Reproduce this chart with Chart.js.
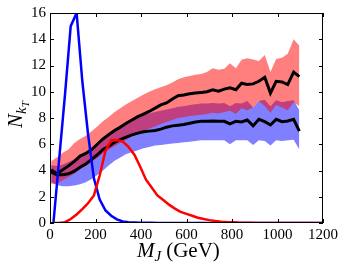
<!DOCTYPE html>
<html>
<head>
<meta charset="utf-8">
<script src="https://cdn.jsdelivr.net/npm/chart.js@4.4.0/dist/chart.umd.min.js"></script>
<style>
  html, body { margin: 0; padding: 0; background: #fff; }
</style>
</head>
<body>
<canvas id="c" width="346" height="269"></canvas>
<script>
// mass bins (GeV) for the mean curves and their bands
const bandMass = [5, 30, 56, 81, 107, 132, 157, 183, 208, 233, 259, 284, 309, 335, 360, 386, 411, 436, 462, 487,
  512, 538, 563, 588, 614, 639, 665, 690, 715, 741, 766, 791, 817, 842, 867, 893, 918, 944, 969, 994,
  1020, 1045, 1071, 1096];

// upper (red band) mean and spread
const redMean = [4.05, 3.75, 4.05, 4.35, 4.7, 5.1, 5.3, 5.6, 6.0, 6.4, 6.75, 7.05, 7.3, 7.6, 7.85, 8.1, 8.3, 8.5, 8.75, 9.0,
  9.15, 9.45, 9.7, 9.75, 9.85, 9.9, 9.95, 10.0, 10.15, 10.05, 10.2, 10.3, 10.15, 10.65, 10.55, 10.6, 10.8, 11.1, 9.9, 10.8,
  10.75, 10.55, 11.5, 11.15];
const redHi = [4.7, 5.0, 5.35, 5.6, 6.1, 6.4, 6.65, 7.0, 7.35, 7.75, 8.1, 8.45, 8.75, 9.05, 9.3, 9.55, 9.8, 10.0, 10.2, 10.35,
  10.5, 10.7, 10.95, 11.1, 11.2, 11.3, 11.35, 11.5, 11.8, 11.68, 11.75, 12.17, 11.8, 12.43, 12.55, 12.45, 12.35, 12.8, 11.5, 12.5,
  12.6, 12.9, 14.0, 13.5];
const redLo = [3.0, 3.0, 3.25, 3.5, 3.75, 4.1, 4.35, 4.65, 4.95, 5.3, 5.6, 5.85, 6.1, 6.35, 6.6, 6.8, 7.0, 7.2, 7.35, 7.55,
  7.7, 7.85, 8.0, 8.05, 8.15, 8.2, 8.25, 8.3, 8.4, 8.35, 8.45, 8.55, 8.3, 8.75, 8.6, 8.8, 9.3, 8.9, 8.4, 9.0,
  8.8, 8.6, 9.2, 8.9];

// lower (blue band) mean and spread
const blueMean = [3.87, 3.67, 3.68, 3.75, 3.95, 4.25, 4.5, 4.85, 5.2, 5.6, 5.85, 6.15, 6.35, 6.55, 6.72, 6.85, 6.95, 7.0, 7.05, 7.15,
  7.3, 7.4, 7.45, 7.5, 7.6, 7.7, 7.75, 7.75, 7.77, 7.75, 7.75, 7.55, 7.75, 7.7, 7.85, 7.4, 7.9, 7.72, 7.47, 7.9,
  7.72, 7.77, 7.9, 7.0];
const blueHi = [4.4, 4.35, 4.45, 4.65, 4.85, 5.1, 5.35, 5.7, 6.1, 6.5, 6.85, 7.2, 7.45, 7.7, 7.95, 8.1, 8.25, 8.35, 8.45, 8.55,
  8.65, 8.75, 8.85, 8.9, 9.0, 9.05, 9.1, 9.1, 9.15, 9.1, 9.15, 8.9, 9.15, 9.1, 9.3, 8.8, 9.3, 9.4, 8.9, 9.35,
  9.2, 9.3, 9.35, 8.6];
const blueLo = [3.1, 2.9, 2.8, 2.8, 2.85, 2.95, 3.1, 3.35, 3.65, 4.0, 4.4, 4.75, 5.0, 5.25, 5.4, 5.55, 5.7, 5.8, 5.9, 5.95,
  6.0, 6.05, 6.1, 6.15, 6.2, 6.25, 6.3, 6.3, 6.3, 6.3, 6.3, 6.0, 6.3, 6.3, 6.3, 5.95, 6.3, 6.25, 5.9, 6.3,
  6.25, 6.3, 6.35, 5.6];

// mass distributions (arbitrary normalisation)
const distMass = [15, 40, 66, 91, 117, 142, 167, 193, 218, 244, 269, 294, 320, 345, 371, 396, 422, 447, 472, 498,
  523, 549, 574, 600, 625, 650, 676, 701, 727, 752, 777, 803, 828, 853, 879, 904, 930, 955, 980, 1006,
  1031, 1057, 1082, 1107, 1133, 1158, 1184, 1200];
const blueDist = [0, 4.8, 9.8, 15.0, 16.0, 10.8, 6.8, 3.4, 1.8, 0.95, 0.55, 0.28, 0.12, 0.05, 0.03, 0.02, 0.01, 0.01, 0, 0,
  0, 0, 0, 0, 0, 0, 0, 0, 0, 0, 0, 0, 0, 0, 0, 0, 0, 0, 0, 0,
  0, 0, 0, 0, 0, 0, 0, 0];
const redDist = [0, 0, 0.06, 0.3, 0.65, 1.05, 1.5, 2.1, 3.6, 5.5, 6.3, 6.32, 6.2, 5.8, 5.2, 4.3, 3.3, 2.7, 2.1, 1.75,
  1.4, 1.1, 0.85, 0.7, 0.55, 0.4, 0.3, 0.22, 0.15, 0.1, 0.07, 0.05, 0.03, 0.02, 0.01, 0, 0, 0, 0, 0,
  0, 0, 0, 0, 0, 0, 0, 0];

const xTicks = [0, 200, 400, 600, 800, 1000, 1200];
const yTicks = [0, 2, 4, 6, 8, 10, 12, 14, 16];

const pts = (xs, ys) => xs.map((x, i) => ({ x: x, y: ys[i] }));
const SERIF = '"Liberation Serif", "DejaVu Serif", serif';

// matplotlib style frame with inward ticks, plus the math axis titles
const frameTicks = {
    id: 'frameTicks',
    afterDraw(chart) {
        const { ctx, chartArea: a, scales: { x, y } } = chart;
        ctx.save();
        ctx.strokeStyle = '#000';
        ctx.lineWidth = 1;
        ctx.strokeRect(a.left + 0.5, a.top + 0.5, a.right - a.left - 1, a.bottom - a.top - 1);
        ctx.beginPath();
        xTicks.forEach(v => {
            const px = Math.round(x.getPixelForValue(v)) + 0.5;
            ctx.moveTo(px, a.bottom); ctx.lineTo(px, a.bottom - 4);
            ctx.moveTo(px, a.top); ctx.lineTo(px, a.top + 4);
        });
        yTicks.forEach(v => {
            const py = Math.round(y.getPixelForValue(v)) + 0.5;
            ctx.moveTo(a.left, py); ctx.lineTo(a.left + 4, py);
            ctx.moveTo(a.right, py); ctx.lineTo(a.right - 4, py);
        });
        ctx.stroke();

        // x title: M_J (GeV)
        ctx.fillStyle = '#000';
        ctx.textBaseline = 'alphabetic';
        ctx.textAlign = 'left';
        let cx = 137;
        const by = 257;
        ctx.font = 'italic 21px ' + SERIF;
        ctx.fillText('M', cx, by);
        cx += ctx.measureText('M').width;
        ctx.font = 'italic 15px ' + SERIF;
        ctx.fillText('J', cx, by + 4);
        cx += ctx.measureText('J').width + 5;
        ctx.font = '21px ' + SERIF;
        ctx.fillText('(GeV)', cx, by);

        // y title: N_{k_T}
        ctx.translate(22, 128);
        ctx.rotate(-Math.PI / 2);
        let cy = 0;
        ctx.font = 'italic 21px ' + SERIF;
        ctx.fillText('N', cy, 0);
        cy += ctx.measureText('N').width;
        ctx.font = 'italic 15px ' + SERIF;
        ctx.fillText('k', cy, 4);
        cy += ctx.measureText('k').width;
        ctx.font = 'italic 11px ' + SERIF;
        ctx.fillText('T', cy, 7);
        ctx.restore();
    }
};

const line = (data, color, width, order) => ({
    data: data, borderColor: color, borderWidth: width, pointRadius: 0, fill: false, tension: 0, order: order
});
const band = (hiData, color, order) => ({
    data: hiData, borderWidth: 0, borderColor: 'rgba(0,0,0,0)', backgroundColor: color,
    pointRadius: 0, fill: '+1', tension: 0, order: order
});
const edge = (loData, order) => ({
    data: loData, borderWidth: 0, borderColor: 'rgba(0,0,0,0)', pointRadius: 0, fill: false, tension: 0, order: order
});

new Chart(document.getElementById('c'), {
    type: 'line',
    data: {
        datasets: [
            band(pts(bandMass, blueHi), 'rgba(0,0,255,0.5)', 9),
            edge(pts(bandMass, blueLo), 9),
            band(pts(bandMass, redHi), 'rgba(255,0,0,0.5)', 8),
            edge(pts(bandMass, redLo), 8),
            line(pts(bandMass, redMean), '#000', 3, 4),
            line(pts(bandMass, blueMean), '#000', 3, 4),
            line(pts(distMass, blueDist), '#0000ff', 2.5, 2),
            line(pts(distMass, redDist), '#ff0000', 2.5, 1)
        ]
    },
    options: {
        responsive: false,
        animation: false,
        layout: { padding: { top: 11, right: 23, left: 0, bottom: 0 } },
        plugins: { legend: { display: false }, tooltip: { enabled: false } },
        scales: {
            x: {
                type: 'linear', min: 0, max: 1200,
                afterFit: s => { s.height = 46; },
                afterBuildTicks: s => { s.ticks = xTicks.map(v => ({ value: v })); },
                grid: { display: false, drawTicks: false },
                border: { display: false },
                ticks: { color: '#000', padding: 3, maxRotation: 0, font: { family: SERIF, size: 15 },
                         callback: v => String(v) }
            },
            y: {
                type: 'linear', min: 0, max: 16,
                afterFit: s => { s.width = 50; },
                afterBuildTicks: s => { s.ticks = yTicks.map(v => ({ value: v })); },
                grid: { display: false, drawTicks: false },
                border: { display: false },
                ticks: { color: '#000', padding: 4, font: { family: SERIF, size: 15 },
                         callback: v => String(v) }
            }
        }
    },
    plugins: [frameTicks]
});
</script>
</body>
</html>
